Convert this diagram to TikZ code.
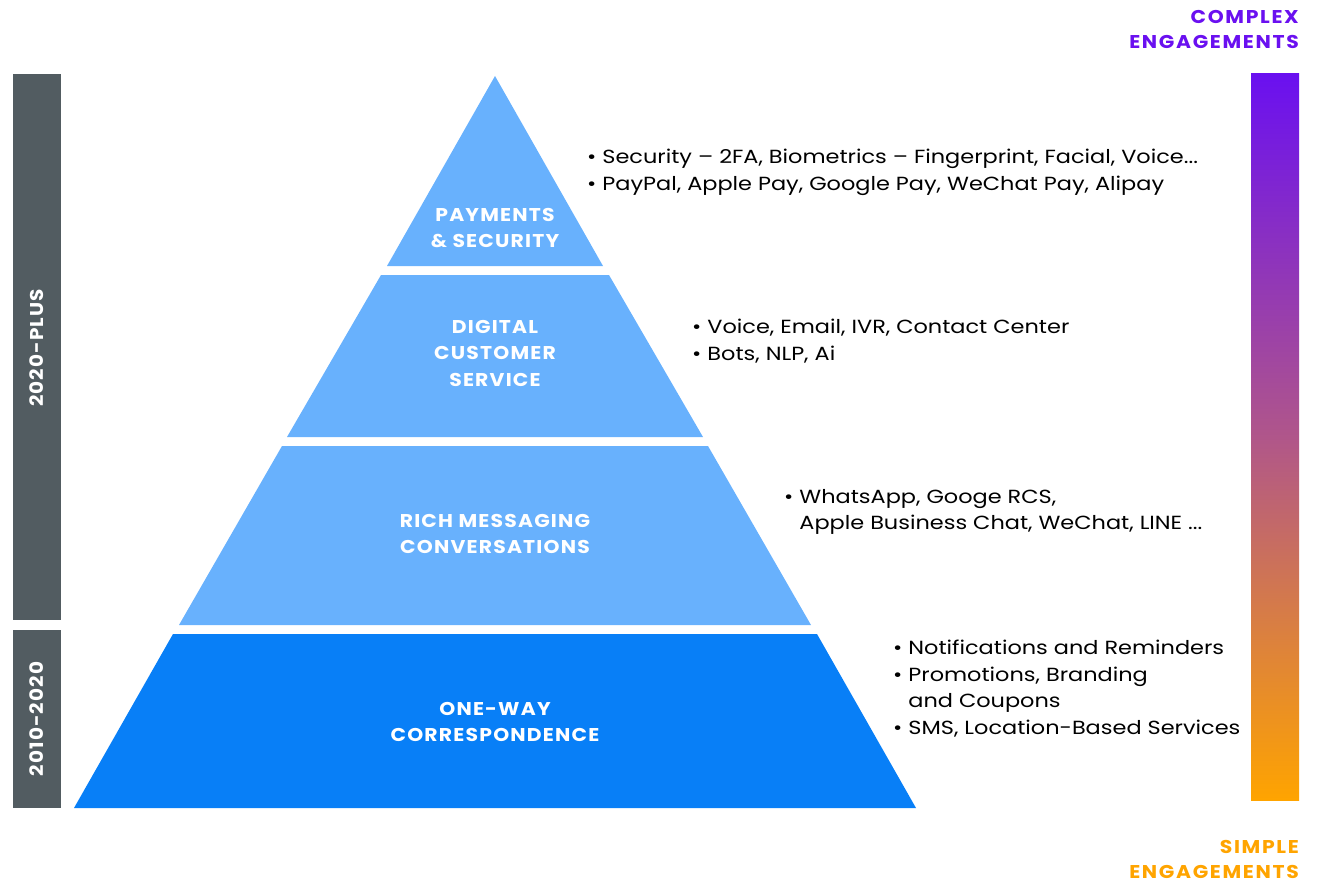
\documentclass[tikz,border=0pt]{standalone}
\usepackage{fontspec}
\setmainfont{Poppins}[FakeStretch=1.18]
\newfontfamily\headfont{Poppins}[FakeStretch=1.1,LetterSpace=6.5]
\newfontfamily\barfont{Poppins}[FakeStretch=1.08,LetterSpace=6]
\newfontfamily\cornerfont{Poppins}[FakeStretch=1.1,LetterSpace=9]
\definecolor{lightblue}{HTML}{68B1FD}
\definecolor{darkblue}{HTML}{087FF7}
\definecolor{barGray}{HTML}{525C61}
\definecolor{purp}{HTML}{6A10F0}
\definecolor{orng}{HTML}{FFA400}
\definecolor{midgrad}{HTML}{B0568A}
\tikzset{
  tierlabel/.style={text=white,font=\headfont\fontsize{18.5}{26.5}\selectfont\bfseries,align=center,inner sep=0pt},
  bullets/.style={text=black,font=\fontsize{19}{26.5}\selectfont,align=left,anchor=north west,inner sep=0pt},
  corner/.style={font=\cornerfont\fontsize{18.5}{25.5}\selectfont\bfseries,align=right,anchor=north east,inner sep=0pt},
  barlabel/.style={text=white,font=\barfont\fontsize{18.5}{22}\selectfont\bfseries,rotate=90,inner sep=0pt}
}
\begin{document}
\begin{tikzpicture}[x=1pt,y=-1pt]
\useasboundingbox (0,0) rectangle (1323,883);
% left bars
\fill[barGray] (13,74) rectangle (61,620);
\fill[barGray] (13,630) rectangle (61,808);
\node[barlabel] (plus) at (37,348) {2020-PLUS};
\node[barlabel] (early) at (37,719) {2010-2020};
% gradient bar
\shade[top color=purp,bottom color=orng,middle color=midgrad] (1251,74) rectangle (1299,800);
% pyramid tiers
\fill[lightblue] (495,76) -- (603,266) -- (387,266) -- cycle;
\fill[lightblue] (381,275) -- (609,275) -- (703,437) -- (287,437) -- cycle;
\fill[lightblue] (282,446) -- (708,446) -- (811,625) -- (179,625) -- cycle;
\fill[darkblue] (173,634) -- (817,634) -- (916,808) -- (74,808) -- cycle;
% tier labels
\node[tierlabel] (t1) at (495,228) {PAYMENTS\\\& SECURITY};
\node[tierlabel] (t2) at (495,353) {DIGITAL\\CUSTOMER\\SERVICE};
\node[tierlabel] (t3) at (495,534) {RICH MESSAGING\\CONVERSATIONS};
\node[tierlabel] (t4) at (495,722) {ONE-WAY\\CORRESPONDENCE};
% bullet texts
\node[bullets] (b1) at (587,149) {\textbullet\ Security – 2FA, Biometrics – Fingerprint, Facial, Voice...\\\textbullet\ PayPal, Apple Pay, Google Pay, WeChat Pay, Alipay};
\node[bullets] (b2) at (692,319) {\textbullet\ Voice, Email, IVR, Contact Center\\\textbullet\ Bots, NLP, Ai};
\node[bullets] (b3) at (784,489) {\textbullet\ WhatsApp, Googe RCS,\\\phantom{\textbullet\ }Apple Business Chat, WeChat, LINE ...};
\node[bullets] (b4) at (893,640) {\textbullet\ Notifications and Reminders\\\textbullet\ Promotions, Branding\\\phantom{\textbullet\ }and Coupons\\\textbullet\ SMS, Location-Based Services};
% corner labels
\node[corner,text=purp] (cx) at (1299,10) {COMPLEX\\ENGAGEMENTS};
\node[corner,text=orng] (sx) at (1299,840) {SIMPLE\\ENGAGEMENTS};
\end{tikzpicture}
\end{document}
